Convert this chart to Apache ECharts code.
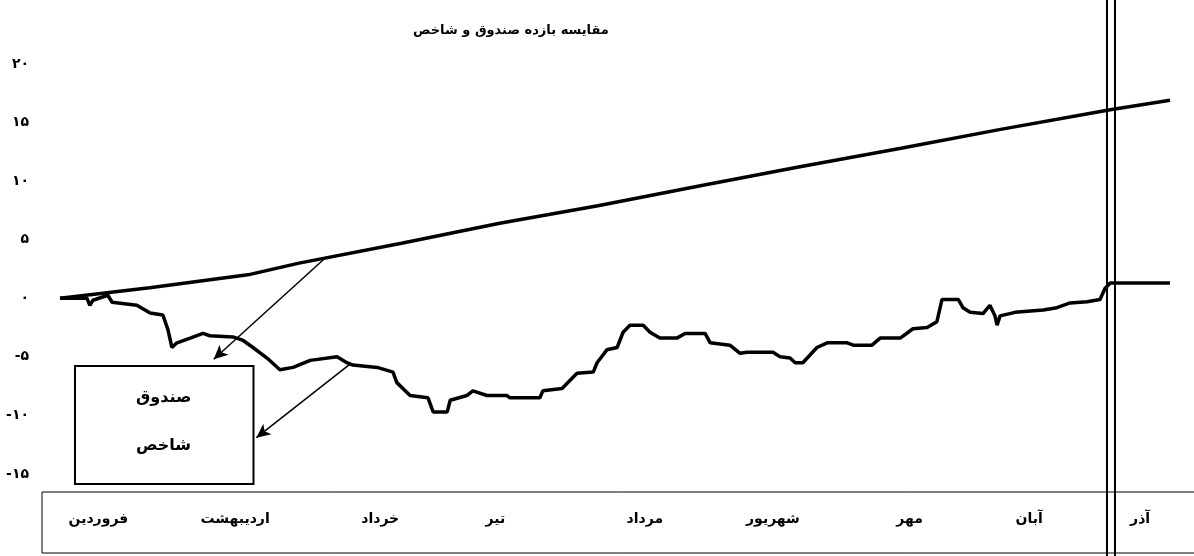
<!DOCTYPE html>
<html>
<head>
<meta charset="utf-8">
<script src="https://cdn.jsdelivr.net/npm/echarts@6/dist/echarts.min.js"></script>
<style>
  html, body { margin: 0; padding: 0; background: #fff; }
  #chart { width: 1194px; height: 556px; }
</style>
</head>
<body>
<div id="chart"></div>
<script>
// ماه‌ها و جای برچسب هر ماه روی محور (بر حسب روز)
var months = ['فروردین', 'اردیبهشت', 'خرداد', 'تیر', 'مرداد', 'شهریور', 'مهر', 'آبان', 'آذر'];
var monthLabelDays = [9, 41, 75, 102, 137, 167, 199, 227, 253];

// برچسب‌های محور عمودی
var yTicks = [-15, -10, -5, 0, 5, 10, 15, 20];
var yTickLabels = ['-۱۵', '-۱۰', '-۵', '۰', '۵', '۱۰', '۱۵', '۲۰'];

// بازده صندوق
var fundDays = [0, 21, 44, 56, 80, 103, 126, 150, 173, 197, 220, 246, 260];
var fundValues = [0, 0.9, 2.0, 3.0, 4.7, 6.4, 7.9, 9.6, 11.2, 12.8, 14.4, 16.1, 16.9];

// بازده شاخص
var indexDays = [0, 6.3, 7, 7.7, 11.2, 12.2, 18, 21.1, 24.1, 25.3, 26.2, 27.4, 30.5, 33.5, 35.1, 40.5, 42.9, 45.2, 48.5, 51.5,
  54.6, 58.6, 64.9, 67.2, 68.6, 74.3, 78, 78.9, 82, 86.2, 87.4, 90.7, 91.4, 95.3, 96.7, 100, 104.7, 105.4, 112.4, 113.1,
  117.6, 121.1, 124.9, 125.8, 128.1, 130.5, 131.9, 133.5, 136.6, 138.2, 140.5, 144.5, 146.4, 151.1, 152.3, 156.9, 159.3, 160.9, 167, 168.7,
  171, 172.2, 174, 177.3, 179.7, 184.4, 185.8, 190.2, 192.1, 196.8, 199.8, 203.1, 205.4, 206.6, 210.4, 211.5, 213.2, 216.2, 217.8, 219,
  219.5, 220.2, 223.7, 230.3, 233.5, 236.6, 240.6, 243.6, 244.8, 246, 260];
var indexValues = [0, 0, -0.6, -0.17, 0.26, -0.34, -0.6, -1.26, -1.43, -2.7, -4.2, -3.8, -3.4, -3.0, -3.2, -3.3, -3.6, -4.2, -5.1, -6.1,
  -5.9, -5.3, -5.0, -5.5, -5.7, -5.9, -6.3, -7.2, -8.3, -8.5, -9.7, -9.7, -8.7, -8.3, -7.9, -8.3, -8.3, -8.5, -8.5, -7.9,
  -7.7, -6.4, -6.3, -5.5, -4.4, -4.2, -2.9, -2.3, -2.3, -2.9, -3.4, -3.4, -3.0, -3.0, -3.8, -4.0, -4.7, -4.6, -4.6, -5.0,
  -5.1, -5.5, -5.5, -4.2, -3.8, -3.8, -4.0, -4.0, -3.4, -3.4, -2.6, -2.5, -2.0, -0.1, -0.1, -0.8, -1.2, -1.3, -0.6, -1.5,
  -2.3, -1.5, -1.2, -1.0, -0.8, -0.4, -0.3, -0.1, 0.85, 1.3, 1.3];

// فلش‌های راهنما (شروع روی خط، پایان کنار کادر راهنما)
var fundArrow = [[62, 3.4], [36, -5.2]];
var indexArrow = [[68, -5.6], [46, -11.9]];

function pairs(xs, ys) {
  return xs.map(function (x, i) { return [x, ys[i]]; });
}

var FONT = 'DejaVu Sans';
var chart = echarts.init(document.getElementById('chart'));

var option = {
  backgroundColor: '#fff',
  animation: false,
  title: {
    text: 'مقایسه بازده صندوق و شاخص',
    left: 408,
    top: 19,
    textStyle: { fontFamily: FONT, fontSize: 13, fontWeight: 'bold', color: '#000' }
  },
  legend: {
    data: ['صندوق', 'شاخص'],
    orient: 'vertical',
    left: 75,
    top: 366,
    icon: 'rect',
    itemWidth: 0,
    itemHeight: 0,
    itemGap: 32,
    padding: [24, 62, 30, 56],
    borderColor: '#000',
    borderWidth: 2,
    backgroundColor: '#fff',
    textStyle: { fontFamily: FONT, fontSize: 16, fontWeight: 'bold', color: '#000' }
  },
  grid: { left: 60, right: 24, top: 64, bottom: 82 },
  xAxis: {
    type: 'value',
    min: 0,
    max: 260,
    splitLine: { show: false },
    axisLine: { show: false },
    axisTick: { show: false },
    axisLabel: {
      customValues: monthLabelDays,
      margin: 38,
      fontFamily: FONT,
      fontSize: 14,
      fontWeight: 'bold',
      color: '#000',
      formatter: function (v) {
        var i = monthLabelDays.indexOf(v);
        return i >= 0 ? months[i] : '';
      }
    }
  },
  yAxis: {
    type: 'value',
    min: -15,
    max: 20,
    interval: 5,
    splitLine: { show: false },
    axisLine: { show: false },
    axisTick: { show: false },
    axisLabel: {
      margin: 31,
      fontFamily: FONT,
      fontSize: 14,
      fontWeight: 'bold',
      color: '#000',
      formatter: function (v) {
        var i = yTicks.indexOf(v);
        return i >= 0 ? yTickLabels[i] : '';
      }
    }
  },
  graphic: [
    // کادر برچسب ماه‌ها
    { type: 'rect', shape: { x: 42, y: 492, width: 1160, height: 61 }, style: { fill: 'none', stroke: '#000', lineWidth: 1 }, z: 1 },
    // خط دوتایی عمودی
    { type: 'line', shape: { x1: 1107, y1: 0, x2: 1107, y2: 556 }, style: { stroke: '#000', lineWidth: 2 }, z: 100 },
    { type: 'line', shape: { x1: 1115, y1: 0, x2: 1115, y2: 556 }, style: { stroke: '#000', lineWidth: 2 }, z: 100 }
  ],
  series: [
    {
      name: 'صندوق',
      type: 'line',
      data: pairs(fundDays, fundValues),
      showSymbol: false,
      lineStyle: { color: '#000', width: 3.5 },
      itemStyle: { color: '#000' },
      emphasis: { disabled: true },
      markLine: {
        silent: true,
        symbol: ['none', 'arrow'],
        symbolSize: [10, 14],
        label: { show: false },
        lineStyle: { color: '#000', width: 1.5, type: 'solid' },
        data: [[{ coord: fundArrow[0] }, { coord: fundArrow[1] }]]
      }
    },
    {
      name: 'شاخص',
      type: 'line',
      data: pairs(indexDays, indexValues),
      showSymbol: false,
      lineStyle: { color: '#000', width: 3.5 },
      itemStyle: { color: '#000' },
      emphasis: { disabled: true },
      markLine: {
        silent: true,
        symbol: ['none', 'arrow'],
        symbolSize: [10, 14],
        label: { show: false },
        lineStyle: { color: '#000', width: 1.5, type: 'solid' },
        data: [[{ coord: indexArrow[0] }, { coord: indexArrow[1] }]]
      }
    }
  ]
};

chart.setOption(option);
window.addEventListener('resize', function () { chart.resize(); });
</script>
</body>
</html>
